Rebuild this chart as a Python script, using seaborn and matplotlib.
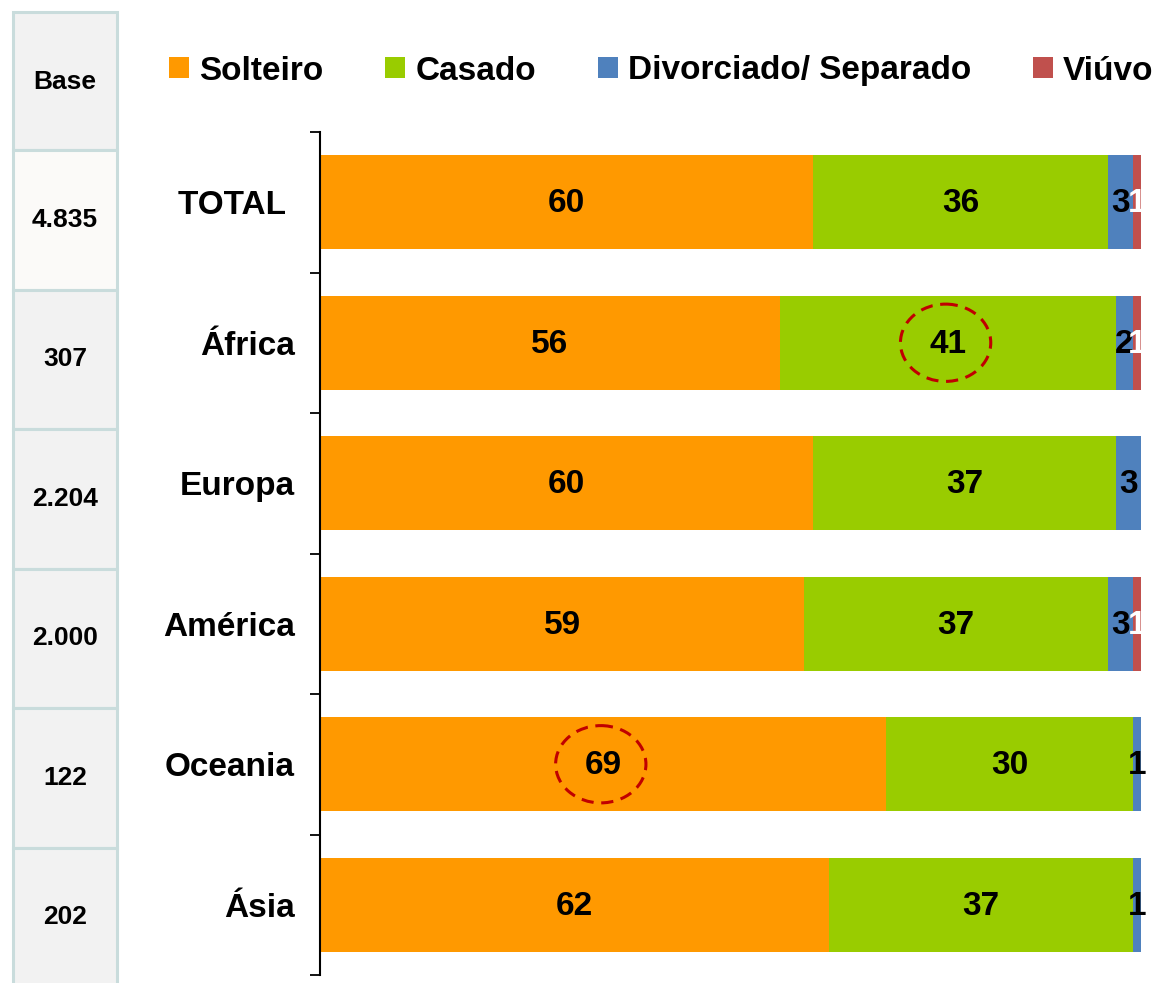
import matplotlib
matplotlib.use("Agg")
import matplotlib.pyplot as plt
from matplotlib.patches import Patch, Rectangle, Ellipse
import seaborn as sns
import numpy as np
import pandas as pd

# ---- data ----
regions = ["TOTAL ", "África", "Europa", "América", "Oceania", "Ásia"]
base = ["4.835", "307", "2.204", "2.000", "122", "202"]
series_names = ["Solteiro", "Casado", "Divorciado/ Separado", "Viúvo"]
solteiro = [60, 56, 60, 59, 69, 62]
casado = [36, 41, 37, 37, 30, 37]
divorciado = [3, 2, 3, 3, 1, 1]
viuvo = [1, 1, 0, 1, 0, 0]
highlights = [("África", "Casado"), ("Oceania", "Solteiro")]

colors = ["#FF9900", "#99CC00", "#4F81BD", "#C0504D"]
label_colors = ["black", "black", "black", "white"]

sns.set_style("white")
plt.rcParams["font.family"] = ["Liberation Sans", "DejaVu Sans"]
plt.rcParams["font.weight"] = "bold"
plt.rcParams["text.color"] = "black"
plt.rcParams["ytick.labelcolor"] = "black"
plt.rcParams["ytick.color"] = "black"
plt.rcParams["axes.labelcolor"] = "black"

W, H = 1158, 983
fig = plt.figure(figsize=(W / 100, H / 100), dpi=100)

# ---- left "Base" table (overlay in pixel coordinates) ----
tab = fig.add_axes([0, 0, 1, 1], zorder=0)
tab.set_xlim(0, W)
tab.set_ylim(H, 0)
tab.axis("off")
border = "#C9DCDC"
x0, x1 = 13, 117
tab.add_patch(Rectangle((x0, 12), x1 - x0, 150 - 12, facecolor="#F2F2F2",
                        edgecolor=border, lw=2.2))
tab.text((x0 + x1) / 2, 82, "Base", ha="center", va="center", fontsize=19,
         fontweight="bold", color="black")
row_h = 139.6
for i, b in enumerate(base):
    top = 150 + i * row_h
    h = row_h if i < len(base) - 1 else H + 20 - top
    fc = "#FBFAF8" if i == 0 else "#F2F2F2"
    tab.add_patch(Rectangle((x0, top), x1 - x0, h, facecolor=fc,
                            edgecolor=border, lw=2.2))
    tab.text((x0 + x1) / 2, 220 + i * 139.4, b, ha="center", va="center",
             fontsize=19, fontweight="bold", color="black")

# ---- stacked bars ----
ax = fig.add_axes([320 / W, 8 / H, 821 / W, 843 / H], zorder=1)
ax.patch.set_alpha(0)
vals = np.array([solteiro, casado, divorciado, viuvo], dtype=float)
cum = np.cumsum(vals, axis=0)
df = pd.DataFrame({"region": regions})
for k in range(len(series_names) - 1, -1, -1):
    df["cum"] = cum[k]
    sns.barplot(data=df, x="cum", y="region", order=regions, orient="h",
                color=colors[k], saturation=1, width=0.67, edgecolor="none",
                linewidth=0, ax=ax)

ax.set_xlim(0, 100)
ax.set_ylim(len(regions) - 0.5, -0.5)
ax.set_xlabel("")
ax.set_ylabel("")
ax.set_xticks([])
ax.set_yticks(np.arange(-0.5, len(regions), 1))
ax.set_yticklabels([])
ax.set_yticks(np.arange(len(regions)), minor=True)
ax.set_yticklabels(regions, minor=True, fontsize=24, fontweight="bold",
                   color="black")
ax.tick_params(axis="y", which="major", direction="out", length=7.5,
               width=1.3, color="black", left=True)
ax.tick_params(axis="y", which="minor", length=0, pad=18)
for s in ["top", "right", "bottom"]:
    ax.spines[s].set_visible(False)
ax.spines["left"].set_color("black")
ax.spines["left"].set_linewidth(1.5)

# value labels
lefts = cum - vals
for k in range(len(series_names)):
    for i in range(len(regions)):
        v = vals[k, i]
        if v <= 0:
            continue
        ax.text(lefts[k, i] + v / 2, i + 0.01, f"{int(v)}", ha="center",
                va="center", fontsize=24, fontweight="bold",
                color=label_colors[k], clip_on=False, zorder=5)

# highlight ellipses
for reg, ser in highlights:
    i = regions.index(reg)
    k = series_names.index(ser)
    cx = lefts[k, i] + vals[k, i] / 2
    ax.add_patch(Ellipse((cx - 0.3, i), width=11, height=0.55, fill=False,
                         edgecolor="#C00000", lw=2.2, linestyle=(0, (4, 2.5)),
                         zorder=6))

# ---- legend ----
handles = [Patch(facecolor=c, edgecolor="none") for c in colors]
leg = fig.legend(handles, series_names, loc="center left",
                 bbox_to_anchor=(169 / W, 1 - 71 / H), ncol=4, frameon=False,
                 prop={"weight": "bold", "size": 24},
                 handlelength=0.6, handleheight=0.6, handletextpad=0.3,
                 columnspacing=1.86, borderpad=0, borderaxespad=0)
for t in leg.get_texts():
    t.set_color("black")

fig.savefig("out.png", dpi=100)
